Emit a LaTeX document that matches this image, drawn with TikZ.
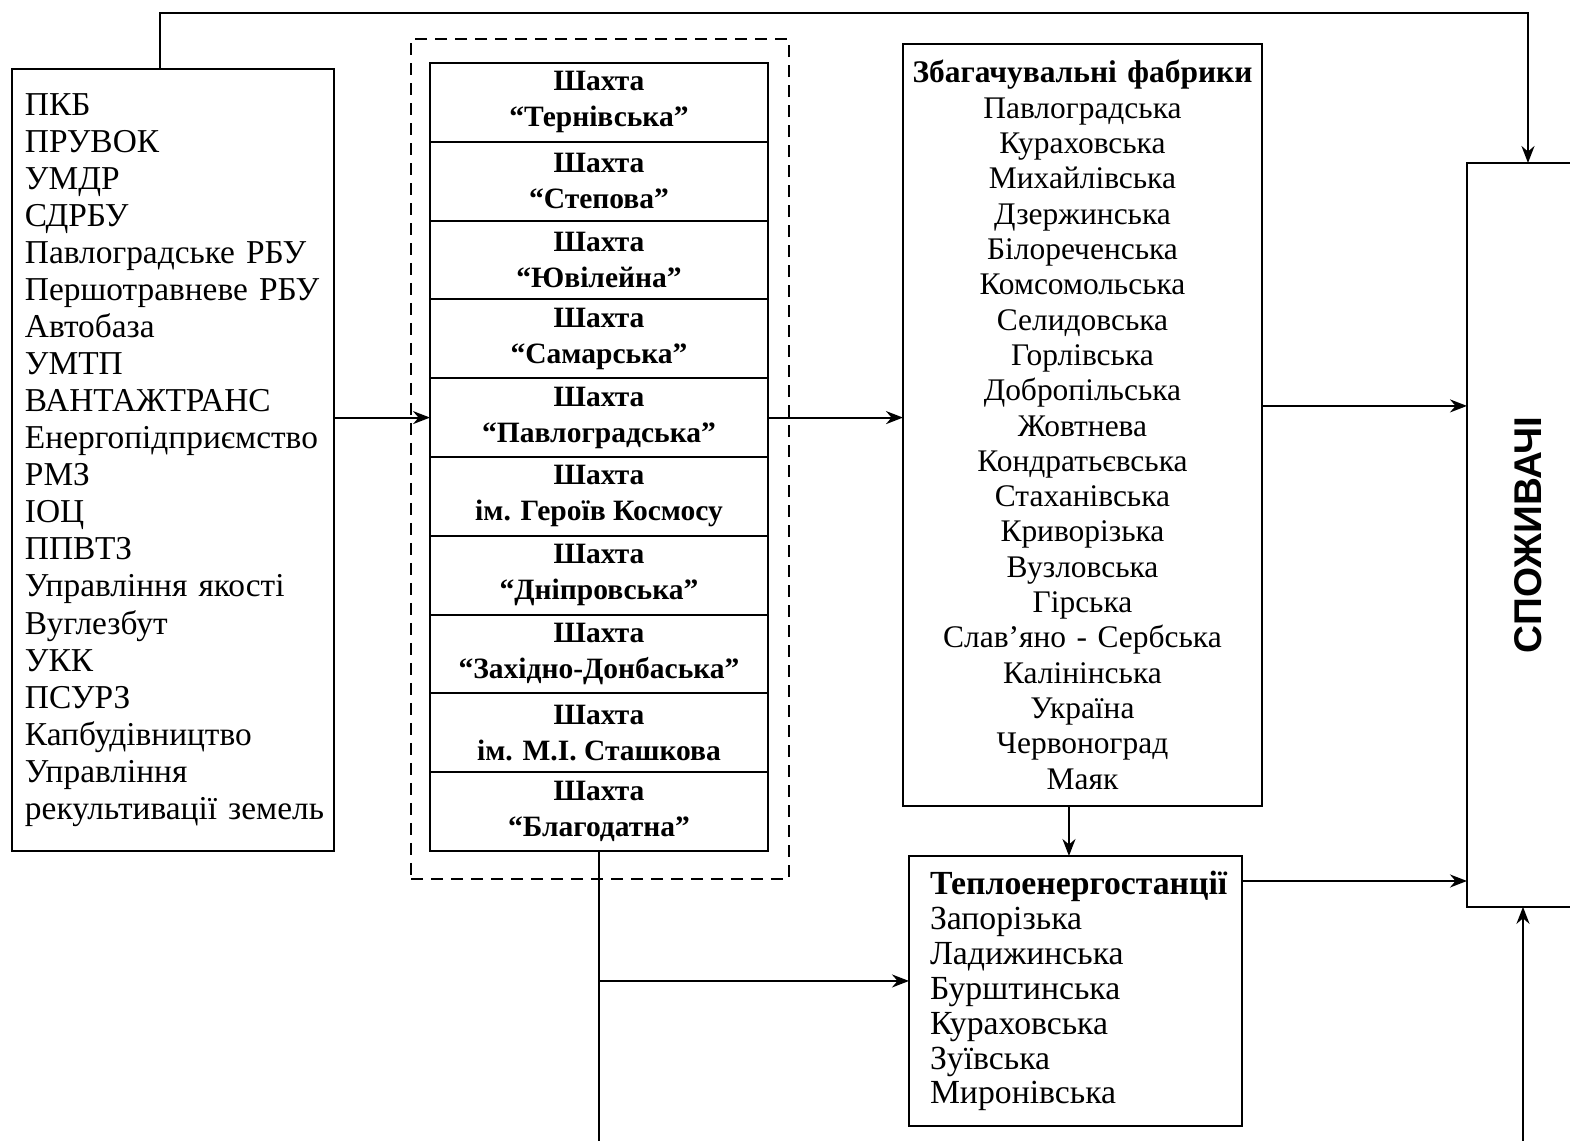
\documentclass[tikz,border=0pt]{standalone}
\usepackage{fontspec}
\setmainfont{Liberation Serif}
\newfontfamily\capsfont{Liberation Sans}
\usetikzlibrary{arrows.meta, positioning}

\tikzset{
  box/.style={draw, line width=1.2pt, inner sep=0pt, outer sep=0pt},
  shaft/.style={box, minimum width=6.76cm, minimum height=1.576cm, align=center,
                font=\fontsize{16.8}{20.5}\selectfont\bfseries},
  arr/.style={-{Stealth[length=3.4mm, width=2.6mm]}, line width=1.2pt},
  line/.style={line width=1.2pt},
}

\begin{document}
\begin{tikzpicture}[x=0.02cm, y=-0.02cm]
  \useasboundingbox (0,0) rectangle (1570,1141);
  \clip (0,0) rectangle (1570,1141);

  % Nodes
  \node[box, anchor=north west, inner xsep=0.26cm, text width=5.92cm,
        minimum height=15.64cm, align=left, font=\fontsize{19}{21.1}\selectfont] (left) at (12,69)
    {ПКБ\\ПРУВОК\\УМДР\\СДРБУ\\Павлоградське~РБУ\\Першотравневе~РБУ\\Автобаза\\УМТП\\ВАНТАЖТРАНС\\Енергопідприємство\\РМЗ\\ІОЦ\\ППВТЗ\\Управління~якості\\Вуглезбут\\УКК\\ПСУРЗ\\Капбудівництво\\Управління\\рекультивації~земель};

  \node[draw, dashed, line width=1.2pt, dash pattern=on 2.4mm off 1.6mm,
        anchor=north west, minimum width=7.56cm, minimum height=16.8cm] (mines) at (410,38) {};

  \foreach \nm [count=\i] in {“Тернівська”, “Степова”, “Ювілейна”, “Самарська”,
      “Павлоградська”, ім. Героїв Космосу, “Дніпровська”, “Західно-Донбаська”,
      ім. М.І. Сташкова, “Благодатна”}
    \node[shaft] (s\i) at (599, {63+78.8*(\i-0.5)}) {Шахта\\\nm};

  \node[box, anchor=north west, text width=7.18cm, minimum height=15.24cm, align=center,
        font=\fontsize{17.9}{20.1}\selectfont] (fab) at (903,44)
    {\textbf{Збагачувальні фабрики}\\Павлоградська\\Кураховська\\Михайлівська\\Дзержинська\\Білореченська\\Комсомольська\\Селидовська\\Горлівська\\Добропільська\\Жовтнева\\Кондратьєвська\\Стаханівська\\Криворізька\\Вузловська\\Гірська\\Слав’яно - Сербська\\Калінінська\\Україна\\Червоноград\\Маяк};

  \node[box, anchor=north west, inner xsep=0.42cm, text width=5.82cm, minimum height=5.4cm, align=left,
        font=\fontsize{19.2}{19.9}\selectfont] (tes) at (909,856)
    {\textbf{Теплоенергостанції}\\Запорізька\\Ладижинська\\Бурштинська\\Кураховська\\Зуївська\\Миронівська};

  \node[box, anchor=north west, minimum width=2.44cm, minimum height=14.88cm] (cons) at (1467,163)
    {\rotatebox{90}{\capsfont\fontsize{22}{24}\selectfont\bfseries СПОЖИВАЧІ}};

  \coordinate (top) at (0,13);
  \coordinate (bot) at (0,1170);

  % Edges
  \draw[arr] ([xshift=-0.26cm]left.north) -- ([xshift=-0.26cm]left.north |- top) -| (cons.north);
  \draw[arr] (left.east |- s5) -- (s5.west);
  \draw[arr] (s5.east) -- (s5.east -| fab.west);
  \draw[arr] ([yshift=0.38cm]fab.east) -- ([yshift=0.38cm]fab.east -| cons.west);
  \draw[arr] ([xshift=-0.27cm]fab.south) -- ([xshift=-0.27cm]fab.south |- tes.north);
  \draw[arr] ([yshift=-0.5cm]tes.north east) -- ([yshift=-0.5cm]tes.north east -| cons.west);
  \draw[line] (s10.south) -- (s10.south |- bot);
  \draw[arr] ([yshift=0.2cm]tes.west -| s10.south) -- ([yshift=0.2cm]tes.west);
  \draw[arr] ([xshift=-0.1cm]cons.south |- bot) -- ([xshift=-0.1cm]cons.south);

\end{tikzpicture}
\end{document}
